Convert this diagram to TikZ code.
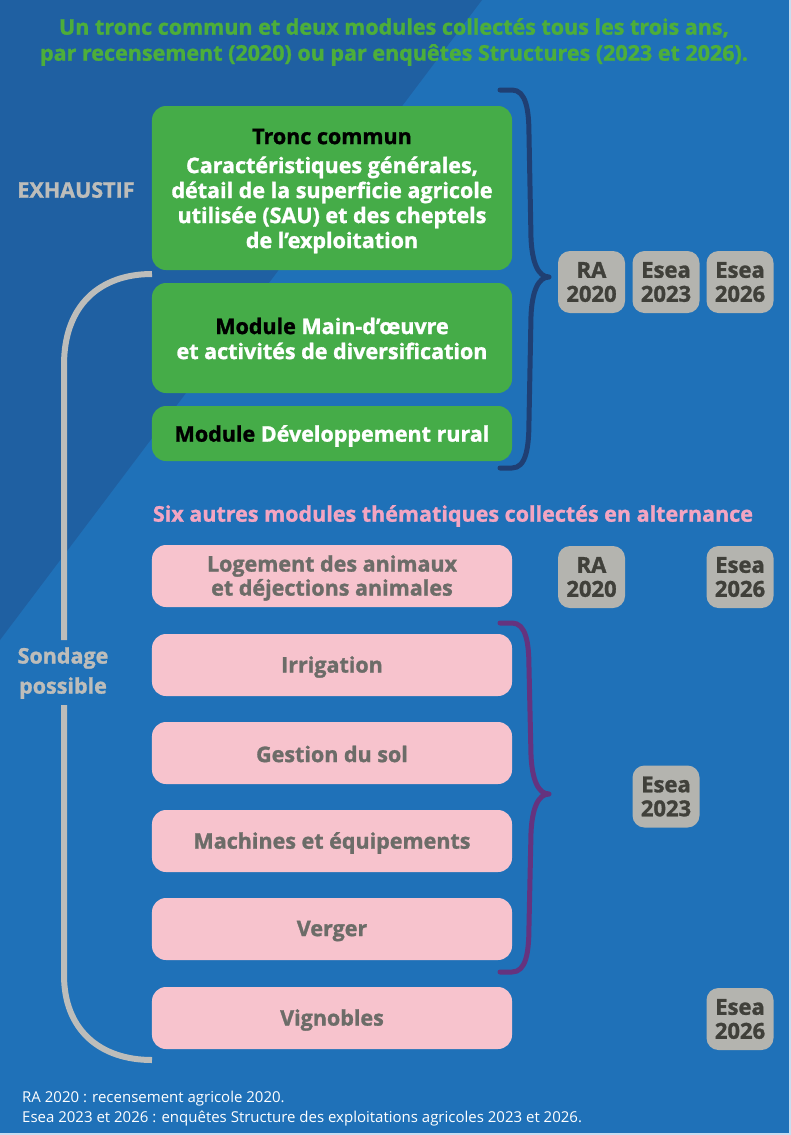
\documentclass[tikz,border=0pt]{standalone}
\usepackage{fontspec}
\setmainfont{Open Sans}[BoldFeatures={FakeBold=1.3}]
\definecolor{bglight}{HTML}{1F71B8}
\definecolor{bgdark}{HTML}{1F60A2}
\definecolor{boxgreen}{HTML}{45AC48}
\definecolor{boxpink}{HTML}{F7C3CD}
\definecolor{badgegray}{HTML}{B4B4AF}
\definecolor{badgetext}{HTML}{40403A}
\definecolor{pinktext}{HTML}{6C6C68}
\definecolor{titlegreen}{HTML}{4DAE3A}
\definecolor{subpink}{HTML}{F3A5C2}
\definecolor{bracegray}{HTML}{BDBDBA}
\definecolor{bracenavy}{HTML}{1F3F73}
\definecolor{bracepurple}{HTML}{65337F}
\definecolor{edgelight}{HTML}{C9DDF0}
\begin{document}
\begin{tikzpicture}[x=1bp,y=-1bp,
  gbox/.style={fill=boxgreen, rounded corners=14bp, minimum width=360bp, inner sep=0pt},
  gtext/.style={align=center, text=white, font=\bfseries\fontsize{21.5bp}{25bp}\selectfont, inner sep=0pt},
  pbox/.style={fill=boxpink, rounded corners=14bp, minimum width=360bp, minimum height=62bp, inner sep=0pt},
  ptext/.style={align=center, text=pinktext, font=\bfseries\fontsize{21.5bp}{24bp}\selectfont, inner sep=0pt},
  badge/.style={fill=badgegray, rounded corners=12bp, minimum width=67bp, minimum height=62bp, align=center,
    text=badgetext, font=\bfseries\fontsize{22bp}{24bp}\selectfont, inner sep=0pt},
  sidelabel/.style={text=bracegray, align=center, font=\bfseries\fontsize{21.5bp}{30bp}\selectfont},
  brace/.style={line width=5bp, line cap=round, line join=round}
]
\useasboundingbox (0,0) rectangle (791,1135);
\fill[bglight] (0,0) rectangle (791,1135);
\fill[bgdark] (0,0) -- (482,0) -- (0,640) -- cycle;
\fill[edgelight] (789,0) rectangle (791,1135);
\fill[edgelight] (0,1133) rectangle (791,1135);

% title
\node[text=titlegreen, align=center, font=\bfseries\fontsize{21.5bp}{26bp}\selectfont] (title) at (394,42)
  {Un tronc commun et deux modules collectés tous les trois ans,\\par recensement (2020) ou par enquêtes Structures (2023 et 2026).};

% green boxes
\node[gbox, minimum height=164bp] (tronc) at (332,188) {};
\node[gtext] (troncT) at ([yshift=-3bp]tronc.center)
  {\textcolor{black}{Tronc commun}\\[4bp]Caractéristiques générales,\\détail de la superficie agricole\\utilisée (SAU) et des cheptels\\de l’exploitation};
\node[gbox, minimum height=110bp] (main) at (332,338) {};
\node[gtext] (mainT) at ([yshift=-0.5bp]main.center)
  {\textcolor{black}{Module} Main-d’œuvre\\et activités de diversification};
\node[gbox, minimum height=55bp] (dev) at (332,433.5) {};
\node[gtext] (devT) at ([yshift=-2.5bp]dev.center)
  {\textcolor{black}{Module} Développement rural};

\node[sidelabel] (exh) at (76,190) {EXHAUSTIF};

% badges row 1
\node[badge] (ra1) at (591.5,282) {RA\\2020};
\node[badge] (es1) at (666,282) {Esea\\2023};
\node[badge] (es2) at (740,282) {Esea\\2026};

% subtitle
\node[text=subpink, font=\bfseries\fontsize{21.5bp}{24bp}\selectfont] (sub) at (453,516)
  {Six autres modules thématiques collectés en alternance};

% pink boxes
\node[pbox] (loge) at (332,576) {};
\node[ptext] (logeT) at ([yshift=-2bp]loge.center) {Logement des animaux\\et déjections animales};
\node[pbox] (irr) at (332,665) {};
\node[ptext] (irrT) at ([yshift=-2bp]irr.center) {Irrigation};
\node[pbox] (sol) at (332,753) {};
\node[ptext] (solT) at ([yshift=-1bp]sol.center) {Gestion du sol};
\node[pbox] (mach) at (332,841) {};
\node[ptext] (machT) at ([yshift=-2bp]mach.center) {Machines et équipements};
\node[pbox] (verg) at (332,929) {};
\node[ptext] (vergT) at ([yshift=-2bp]verg.center) {Verger};
\node[pbox] (vign) at (332,1018) {};
\node[ptext] (vignT) at ([yshift=-2bp]vign.center) {Vignobles};

\node[badge] (ra2) at (591.5,577) {RA\\2020};
\node[badge] (es3) at (740,577) {Esea\\2026};
\node[badge] (es4) at (666,796.5) {Esea\\2023};
\node[badge] (es5) at (740,1019) {Esea\\2026};

\node[sidelabel] (sond) at (63,673) {Sondage\\possible};

% navy brace
\draw[brace, bracenavy] (500,90) -- (512,90) .. controls (526,90) and (529,110) .. (529,135)
  -- (531,238) .. controls (532,262) and (538,277) .. (549,277)
  .. controls (538,277) and (532,292) .. (531,316)
  -- (529,420) .. controls (529,448) and (526,468) .. (512,468) -- (500,468);
% purple brace
\draw[brace, bracepurple] (500,623) -- (512,623) .. controls (526,623) and (529,643) .. (529,668)
  -- (531,755) .. controls (532,779) and (538,794) .. (549,794)
  .. controls (538,794) and (532,809) .. (531,833)
  -- (529,925) .. controls (529,953) and (526,972) .. (512,972) -- (500,972);
% gray brace
\draw[line width=6bp, bracegray] (152,274) .. controls (100,274) and (64,305) .. (64,365) -- (64,640);
\draw[line width=6bp, bracegray] (64,705) -- (64,975) .. controls (64,1030) and (100,1060) .. (152,1060);

% footnote
\node[anchor=north west, text=white, align=left, font=\fontsize{15bp}{20bp}\selectfont, inner sep=0pt] (foot) at (22,1090.5)
  {RA 2020 : recensement agricole 2020.\\Esea 2023 et 2026 : enquêtes Structure des exploitations agricoles 2023 et 2026.};
\end{tikzpicture}
\end{document}
